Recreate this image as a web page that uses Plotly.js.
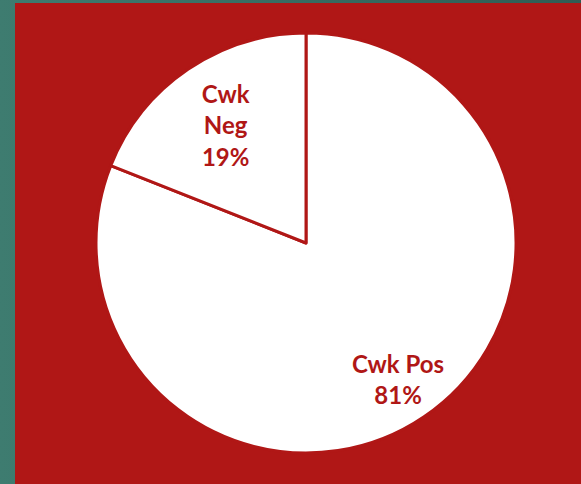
<!DOCTYPE html>
<html>
<head>
<meta charset="utf-8">
<script src="https://cdn.plot.ly/plotly-3.0.1.min.js"></script>
<style>
  html, body { margin: 0; padding: 0; width: 581px; height: 484px; overflow: hidden;
    background: linear-gradient(to right, #3e7c70, #2f5d54); }
  #chart { position: absolute; left: 15px; top: 3px; width: 566px; height: 481px; }
</style>
</head>
<body>
<div id="chart"></div>
<script>
const categories = ['Cwk Pos', 'Cwk Neg'];
const displayLabels = ['Cwk Pos', 'Cwk<br>Neg'];
const values = [81, 19];

const red = '#b01716';
const W = 566, H = 481;
const dom = { x: [0.1431, 0.8852], y: [0.0644, 0.9376] };
const font = { family: 'Lato, "Open Sans", sans-serif', size: 24, color: red, weight: 'bold' };
const clear = 'rgba(0,0,0,0)';

// label placement for the large slice, from its mid angle (clockwise from 12 o'clock)
const total = values.reduce((a, b) => a + b, 0);
const cx = (dom.x[0] + dom.x[1]) / 2, cy = (dom.y[0] + dom.y[1]) / 2;
const rPx = (dom.x[1] - dom.x[0]) * W / 2;
const mid0 = 2 * Math.PI * (values[0] / 2) / total;
const labelR = 0.78 * rPx;

Plotly.newPlot('chart', [
  {
    type: 'pie', labels: categories, values: values,
    sort: false, direction: 'clockwise', rotation: 0,
    textinfo: 'none',
    marker: { colors: ['#ffffff', '#ffffff'], line: { color: red, width: 3 } },
    hoverinfo: 'none', domain: dom
  },
  {
    type: 'pie', labels: categories, values: values, text: displayLabels,
    sort: false, direction: 'clockwise', rotation: 0, hole: 0.36,
    texttemplate: ['', '%{text}<br>%{percent:.0%}'], textposition: 'inside',
    insidetextorientation: 'horizontal', textfont: font,
    marker: { colors: [clear, clear], line: { width: 0 } },
    hoverinfo: 'none', domain: dom
  }
], {
  width: W, height: H,
  margin: { l: 0, r: 0, t: 0, b: 0 },
  paper_bgcolor: red,
  plot_bgcolor: red,
  showlegend: false,
  annotations: [{
    xref: 'paper', yref: 'paper',
    x: cx + labelR * Math.sin(mid0) / W,
    y: cy + labelR * Math.cos(mid0) / H,
    xanchor: 'center', yanchor: 'middle',
    text: displayLabels[0] + '<br>' + Math.round(100 * values[0] / total) + '%',
    showarrow: false, font: font
  }]
}, { displayModeBar: false, staticPlot: true });
</script>
</body>
</html>
